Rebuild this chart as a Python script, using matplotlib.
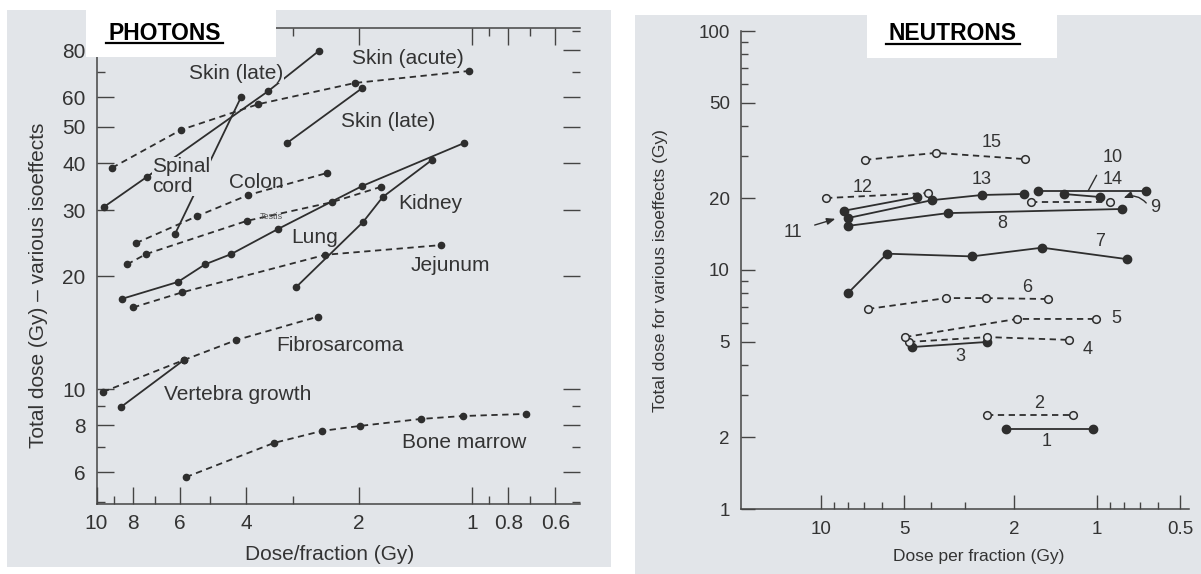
import matplotlib
matplotlib.use('Agg')
import matplotlib.pyplot as plt
from matplotlib.patches import Rectangle
from matplotlib.lines import Line2D
from matplotlib.ticker import FixedLocator, FixedFormatter, NullFormatter

plt.rcParams['font.family'] = ['Liberation Sans', 'DejaVu Sans']

# ---- PHOTONS: dose per fraction (Gy) -> total dose (Gy), one list per tissue
photon_names = ['Skin (late) a', 'Skin (acute)', 'Skin (late) b', 'Spinal cord', 'Colon',
                'Testis', 'Lung', 'Kidney', 'Jejunum', 'Fibrosarcoma',
                'Vertebra growth', 'Bone marrow']
photon_dpf = [[9.55, 7.34, 3.49, 2.56],
              [9.09, 5.96, 3.71, 2.05, 1.02],
              [3.11, 1.96],
              [6.18, 4.12],
              [7.85, 5.40, 3.95, 2.43],
              [8.29, 7.38, 3.97, 2.36, 1.75],
              [8.55, 6.07, 5.14, 4.38, 3.29, 1.96, 1.05],
              [2.94, 1.95, 1.73, 1.28],
              [7.99, 5.92, 2.46, 1.21],
              [9.61, 5.85, 4.25, 2.57],
              [8.61, 5.85],
              [5.78, 3.37, 2.51, 1.99, 1.37, 1.06, 0.72]]
photon_total = [[30.6, 36.8, 62.3, 79.7],
                [38.9, 49.1, 57.5, 65.5, 70.5],
                [45.3, 63.5],
                [25.9, 60.1],
                [24.5, 28.9, 32.9, 37.7],
                [21.5, 22.9, 28.1, 31.5, 34.6],
                [17.4, 19.3, 21.5, 22.9, 26.7, 34.8, 45.3],
                [18.7, 27.9, 32.5, 40.8],
                [16.5, 18.1, 22.8, 24.2],
                [9.82, 11.95, 13.5, 15.6],
                [8.95, 11.95],
                [5.82, 7.18, 7.73, 7.97, 8.32, 8.47, 8.58]]
# acute (dashed) or late (solid) responding
photon_acute = [False, True, False, False, True, True, False, False, True, True, False, True]

# ---- NEUTRONS: curves 1..15
neutron_ids = ['1', '2', '3', '4', '5', '6', '7', '8', '9', '10', '11', '12', '13', '14', '15']
neutron_dpf = [[2.14, 1.03],
               [2.50, 1.22],
               [4.68, 2.50],
               [4.80, 2.50, 1.26],
               [4.96, 1.95, 1.01],
               [6.76, 3.52, 2.52, 1.50],
               [7.98, 5.77, 2.84, 1.58, 0.778],
               [7.98, 3.47, 0.811],
               [1.73, 0.897],
               [1.64, 0.665],
               [8.25, 4.49],
               [9.59, 4.10],
               [7.98, 3.96, 2.61, 1.84],
               [1.32, 0.975],
               [6.93, 3.83, 1.82]]
neutron_total = [[2.16, 2.16],
                 [2.47, 2.47],
                 [4.76, 5.00],
                 [5.00, 5.24, 5.10],
                 [5.24, 6.24, 6.24],
                 [6.87, 7.63, 7.63, 7.56],
                 [8.01, 11.7, 11.4, 12.4, 11.1],
                 [15.3, 17.3, 18.0],
                 [19.3, 19.3],
                 [21.4, 21.4],
                 [17.7, 20.2],
                 [20.0, 21.0],
                 [16.5, 19.6, 20.6, 20.8],
                 [20.8, 20.2],
                 [28.9, 30.9, 29.1]]
# open symbols / dashed line
neutron_open = [False, True, False, True, True, True, False, False, True, False, False, True, False, False, True]

BG = '#e2e5e9'
INK = '#2e2e2e'
W, H = 1201, 574


def fx(px):
    return px / W


def fy(py):
    return 1 - py / H


fig = plt.figure(figsize=(W / 100, H / 100), dpi=100)
fig.patch.set_facecolor('white')

# scanned page backgrounds
fig.patches.append(Rectangle((fx(7), fy(567)), fx(611) - fx(7), fy(10) - fy(567),
                             transform=fig.transFigure, facecolor=BG, edgecolor='none', zorder=-10))
fig.patches.append(Rectangle((fx(635), fy(574)), fx(1201) - fx(635), fy(15) - fy(574),
                             transform=fig.transFigure, facecolor=BG, edgecolor='none', zorder=-10))

# ================= PHOTONS =================
ax1 = fig.add_axes([fx(96.5), fy(504), (580 - 96.5) / W, (504 - 28) / H])
ax1.set_facecolor('none')
ax1.set_xscale('log')
ax1.set_yscale('log')
ax1.set_xlim(10, 0.516)
ax1.set_ylim(4.935, 91.8)

for x, y, acute in zip(photon_dpf, photon_total, photon_acute):
    if acute:
        ax1.plot(x, y, color=INK, lw=1.3, dashes=[3.5, 2.5], marker='o', ms=4.5, zorder=3)
    else:
        ax1.plot(x, y, color=INK, lw=1.3, marker='o', ms=4.5, zorder=3)

ax1.xaxis.set_major_locator(FixedLocator([10, 8, 6, 4, 2, 1, 0.8, 0.6]))
ax1.xaxis.set_major_formatter(FixedFormatter(['10', '8', '6', '4', '2', '1', '0.8', '0.6']))
ax1.xaxis.set_minor_locator(FixedLocator([9, 7, 5, 3, 0.9, 0.7]))
ax1.xaxis.set_minor_formatter(NullFormatter())
ax1.yaxis.set_major_locator(FixedLocator([6, 8, 10, 20, 30, 40, 50, 60, 80]))
ax1.yaxis.set_major_formatter(FixedFormatter(['6', '8', '10', '20', '30', '40', '50', '60', '80']))
ax1.yaxis.set_minor_locator(FixedLocator([5, 7, 9, 70, 90]))
ax1.yaxis.set_minor_formatter(NullFormatter())
ax1.tick_params(which='both', direction='in', top=True, right=True, colors='#444',
                labelcolor='#333', labelsize=15, width=1)
ax1.tick_params(which='major', length=12)
ax1.tick_params(which='minor', length=6)
ax1.tick_params(axis='x', pad=7)
ax1.tick_params(axis='y', pad=8)
ax1.spines['right'].set_visible(False)
for s in ['left', 'bottom', 'top']:
    ax1.spines[s].set_color('#444')
    ax1.spines[s].set_linewidth(1.1)

lab = dict(color='#333', fontsize=15, ha='center', va='center', zorder=4)
ax1.text(4.25, 69.6, 'Skin (late)', bbox=dict(facecolor=BG, edgecolor='none', pad=0.5), **lab)
ax1.text(1.48, 76.3, 'Skin (acute)', **lab)
ax1.text(1.67, 51.8, 'Skin (late)', **lab)
ax1.text(7.11, 36.9, 'Spinal\ncord', color='#333', fontsize=15, ha='left', va='center',
         linespacing=1.05, zorder=4, bbox=dict(facecolor=BG, edgecolor='none', pad=0.3))
ax1.text(3.76, 35.6, 'Colon', **lab)
ax1.text(3.43, 28.9, 'Testis', color='#555', fontsize=6.5, ha='center', va='center')
ax1.text(2.62, 25.4, 'Lung', **lab)
ax1.text(1.29, 31.3, 'Kidney', **lab)
ax1.text(1.14, 21.4, 'Jejunum', **lab)
ax1.text(2.25, 13.1, 'Fibrosarcoma', **lab)
ax1.text(4.20, 9.64, 'Vertebra growth', **lab)
ax1.text(1.05, 7.22, 'Bone marrow', **lab)

fig.text(fx(38), fy(285), 'Total dose (Gy) \u2013 various isoeffects', rotation=90,
         ha='center', va='center', fontsize=15, color='#333')
fig.text(fx(330), fy(554), 'Dose/fraction (Gy)', ha='center', va='center', fontsize=15, color='#333')

# ================= NEUTRONS =================
ax2 = fig.add_axes([fx(741), fy(509), (1189 - 741) / W, (509 - 31) / H])
ax2.set_facecolor('none')
ax2.set_xscale('log')
ax2.set_yscale('log')
ax2.set_xlim(19.5, 0.464)
ax2.set_ylim(1, 100)

for x, y, is_open in zip(neutron_dpf, neutron_total, neutron_open):
    if is_open:
        ax2.plot(x, y, color=INK, lw=1.3, dashes=[3.5, 2.5], marker='o', ms=5.5,
                 mfc=BG, mec=INK, mew=1.1, zorder=3)
    else:
        ax2.plot(x, y, color=INK, lw=1.3, marker='o', ms=6, zorder=3)

ax2.xaxis.set_major_locator(FixedLocator([10, 5, 2, 1, 0.5]))
ax2.xaxis.set_major_formatter(FixedFormatter(['10', '5', '2', '1', '0.5']))
ax2.xaxis.set_minor_locator(FixedLocator([9, 8, 7, 6, 4, 3, 0.9, 0.8, 0.7, 0.6]))
ax2.xaxis.set_minor_formatter(NullFormatter())
ax2.yaxis.set_major_locator(FixedLocator([1, 2, 5, 10, 20, 50, 100]))
ax2.yaxis.set_major_formatter(FixedFormatter(['1', '2', '5', '10', '20', '50', '100']))
ax2.yaxis.set_minor_locator(FixedLocator([3, 4, 6, 7, 8, 9, 30, 40, 60, 70, 80, 90]))
ax2.yaxis.set_minor_formatter(NullFormatter())
ax2.tick_params(which='both', direction='in', colors='#444', labelcolor='#333',
                labelsize=13.5, width=1)
ax2.tick_params(which='major', length=10)
ax2.tick_params(which='minor', length=5)
ax2.tick_params(axis='x', pad=9)
ax2.tick_params(axis='y', pad=8)
ax2.spines['right'].set_visible(False)
ax2.spines['top'].set_visible(False)
for s in ['left', 'bottom']:
    ax2.spines[s].set_color('#444')
    ax2.spines[s].set_linewidth(1.1)

nlab = dict(color='#333', fontsize=13, ha='center', va='center', zorder=4)
label_pos = [(1.52, 1.91), (1.62, 2.75), (3.14, 4.33), (1.078, 4.67), (0.853, 6.24),
             (1.79, 8.41), (0.975, 13.2), (2.21, 15.7), (0.617, 18.3), (0.875, 29.7),
             (12.63, 14.4), (7.05, 22.2), (2.61, 23.8), (0.875, 23.8), (2.40, 34.0)]
for name, (lx, ly) in zip(neutron_ids, label_pos):
    ax2.text(lx, ly, name, **nlab)

ax2.annotate('', xy=(8.68, 16.5), xytext=(10.78, 15.3),
             arrowprops=dict(arrowstyle='-|>,head_length=0.5,head_width=0.2', color=INK, lw=1))
ax2.annotate('', xy=(1.087, 21.0), xytext=(0.992, 25.5),
             arrowprops=dict(arrowstyle='-', color=INK, lw=1))
ax2.annotate('', xy=(0.818, 19.8), xytext=(0.653, 18.7),
             arrowprops=dict(arrowstyle='-|>,head_length=0.5,head_width=0.2', color=INK, lw=1,
                             connectionstyle='arc3,rad=0.4'))

fig.text(fx(660), fy(271), 'Total dose for various isoeffects (Gy)', rotation=90,
         ha='center', va='center', fontsize=12.5, color='#333')
fig.text(fx(979), fy(557), 'Dose per fraction (Gy)', ha='center', va='center', fontsize=12.5, color='#333')

# title boxes (drawn on top of the frame)
fig.patches.append(Rectangle((fx(86), fy(57)), fx(276) - fx(86), fy(10) - fy(57),
                             transform=fig.transFigure, facecolor='white', edgecolor='none', zorder=5))
fig.patches.append(Rectangle((fx(867), fy(58)), fx(1057) - fx(867), fy(0) - fy(58),
                             transform=fig.transFigure, facecolor='white', edgecolor='none', zorder=5))
fig.text(fx(164.5), fy(33.5), 'PHOTONS', ha='center', va='center', fontsize=16.5,
         fontweight='bold', color='black', zorder=6)
fig.text(fx(953), fy(33), 'NEUTRONS', ha='center', va='center', fontsize=16.5,
         fontweight='bold', color='black', zorder=6)
fig.add_artist(Line2D([fx(106), fx(223)], [fy(43), fy(43)], color='black', lw=1.6, zorder=6))
fig.add_artist(Line2D([fx(886), fx(1020)], [fy(44), fy(44)], color='black', lw=1.6, zorder=6))

fig.savefig('out.png', dpi=100)
